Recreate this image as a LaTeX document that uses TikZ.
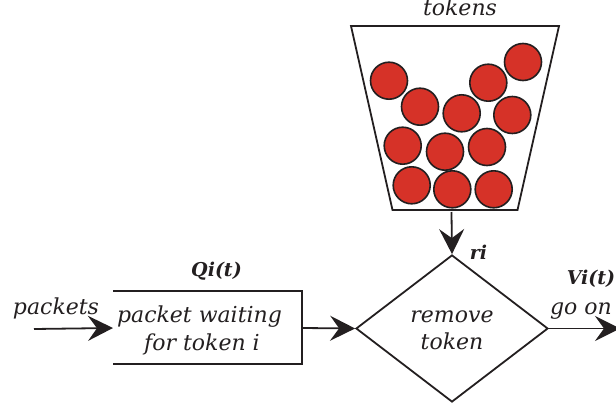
\documentclass[tikz,border=0pt]{standalone}
\usepackage{fontspec}
\setmainfont{DejaVu Serif}
\usetikzlibrary{shapes.geometric,arrows.meta,calc}
\definecolor{ink}{RGB}{35,31,32}
\definecolor{tokred}{RGB}{214,50,40}
\tikzset{
  lbl/.style={font=\fontsize{22}{27.5}\selectfont\itshape,text=ink,inner sep=0pt,align=center},
  blbl/.style={font=\fontsize{19}{23}\selectfont\bfseries\itshape,text=ink,inner sep=0pt},
  edge/.style={draw=ink,line width=1.8pt},
  flow/.style={edge,-{Stealth[length=25pt,width=25pt,inset=9pt,fill=ink]}},
  tok/.style={circle,draw=ink,line width=1.6pt,fill=tokred,minimum size=37pt,inner sep=0pt},
}
\begin{document}
\begin{tikzpicture}[x=1pt,y=-1pt]
\useasboundingbox (0,0) rectangle (616,409);
% bucket
\coordinate (bTL) at (351,26);
\coordinate (bTR) at (559,26);
\coordinate (bBR) at (517.5,210);
\coordinate (bBL) at (392.5,210);
\draw[edge,line join=miter] (bTL) -- (bTR) -- (bBR) -- (bBL) -- cycle;
\node[lbl] (tokens) at (460,7) {tokens};
\foreach \n/\x/\y in {a/389/80.7,b/420/106.7,c/461.7/113.3,d/488.3/82.7,e/523/62,f/512.3/115,
  g/402.7/145.7,h/445/151.7,i/487/147,j/411.7/185.3,k/452.3/189.3,l/493.7/189.3}
  \node[tok] (t\n) at (\x,\y) {};
% diamond
\node[diamond,draw=ink,line width=1.8pt,minimum width=192pt,minimum height=147pt,inner sep=0pt,
  shape aspect=1.306] (rm) at (452,328.5) {};
\node[lbl] (rmt) at (452,330.5) {remove\\token};
\node[blbl] (ri) at (478.5,252) {ri};
% bucket arrow
\coordinate (bOut) at (451.5,212);
\draw[flow] (bOut) -- (rm.north);
% queue box
\coordinate (qTL) at (113,291);
\coordinate (qTR) at (302,291);
\coordinate (qBR) at (302,364);
\coordinate (qBL) at (113,364);
\draw[edge] (qTL) -- (qTR) -- (qBR) -- (qBL);
\node[lbl] (q) at (199.5,330.5) {packet waiting\\\hspace*{5pt}for token i};
\node[blbl] (qi) at (216.5,271.5) {Qi(t)};
% flows
\node[lbl] (pk) at (56,308) {packets};
\coordinate (in) at (34,329);
\coordinate (inE) at (113,328);
\draw[flow] (in) -- (inE);
\coordinate (qOut) at (302,328);
\draw[flow] (qOut) -- (rm.west);
\coordinate (out) at (620,328.5);
\draw[flow] (rm.east) -- (out);
\node[blbl] (vi) at (591,279) {Vi(t)};
\node[lbl] (go) at (581,311) {go on};
\end{tikzpicture}
\end{document}
